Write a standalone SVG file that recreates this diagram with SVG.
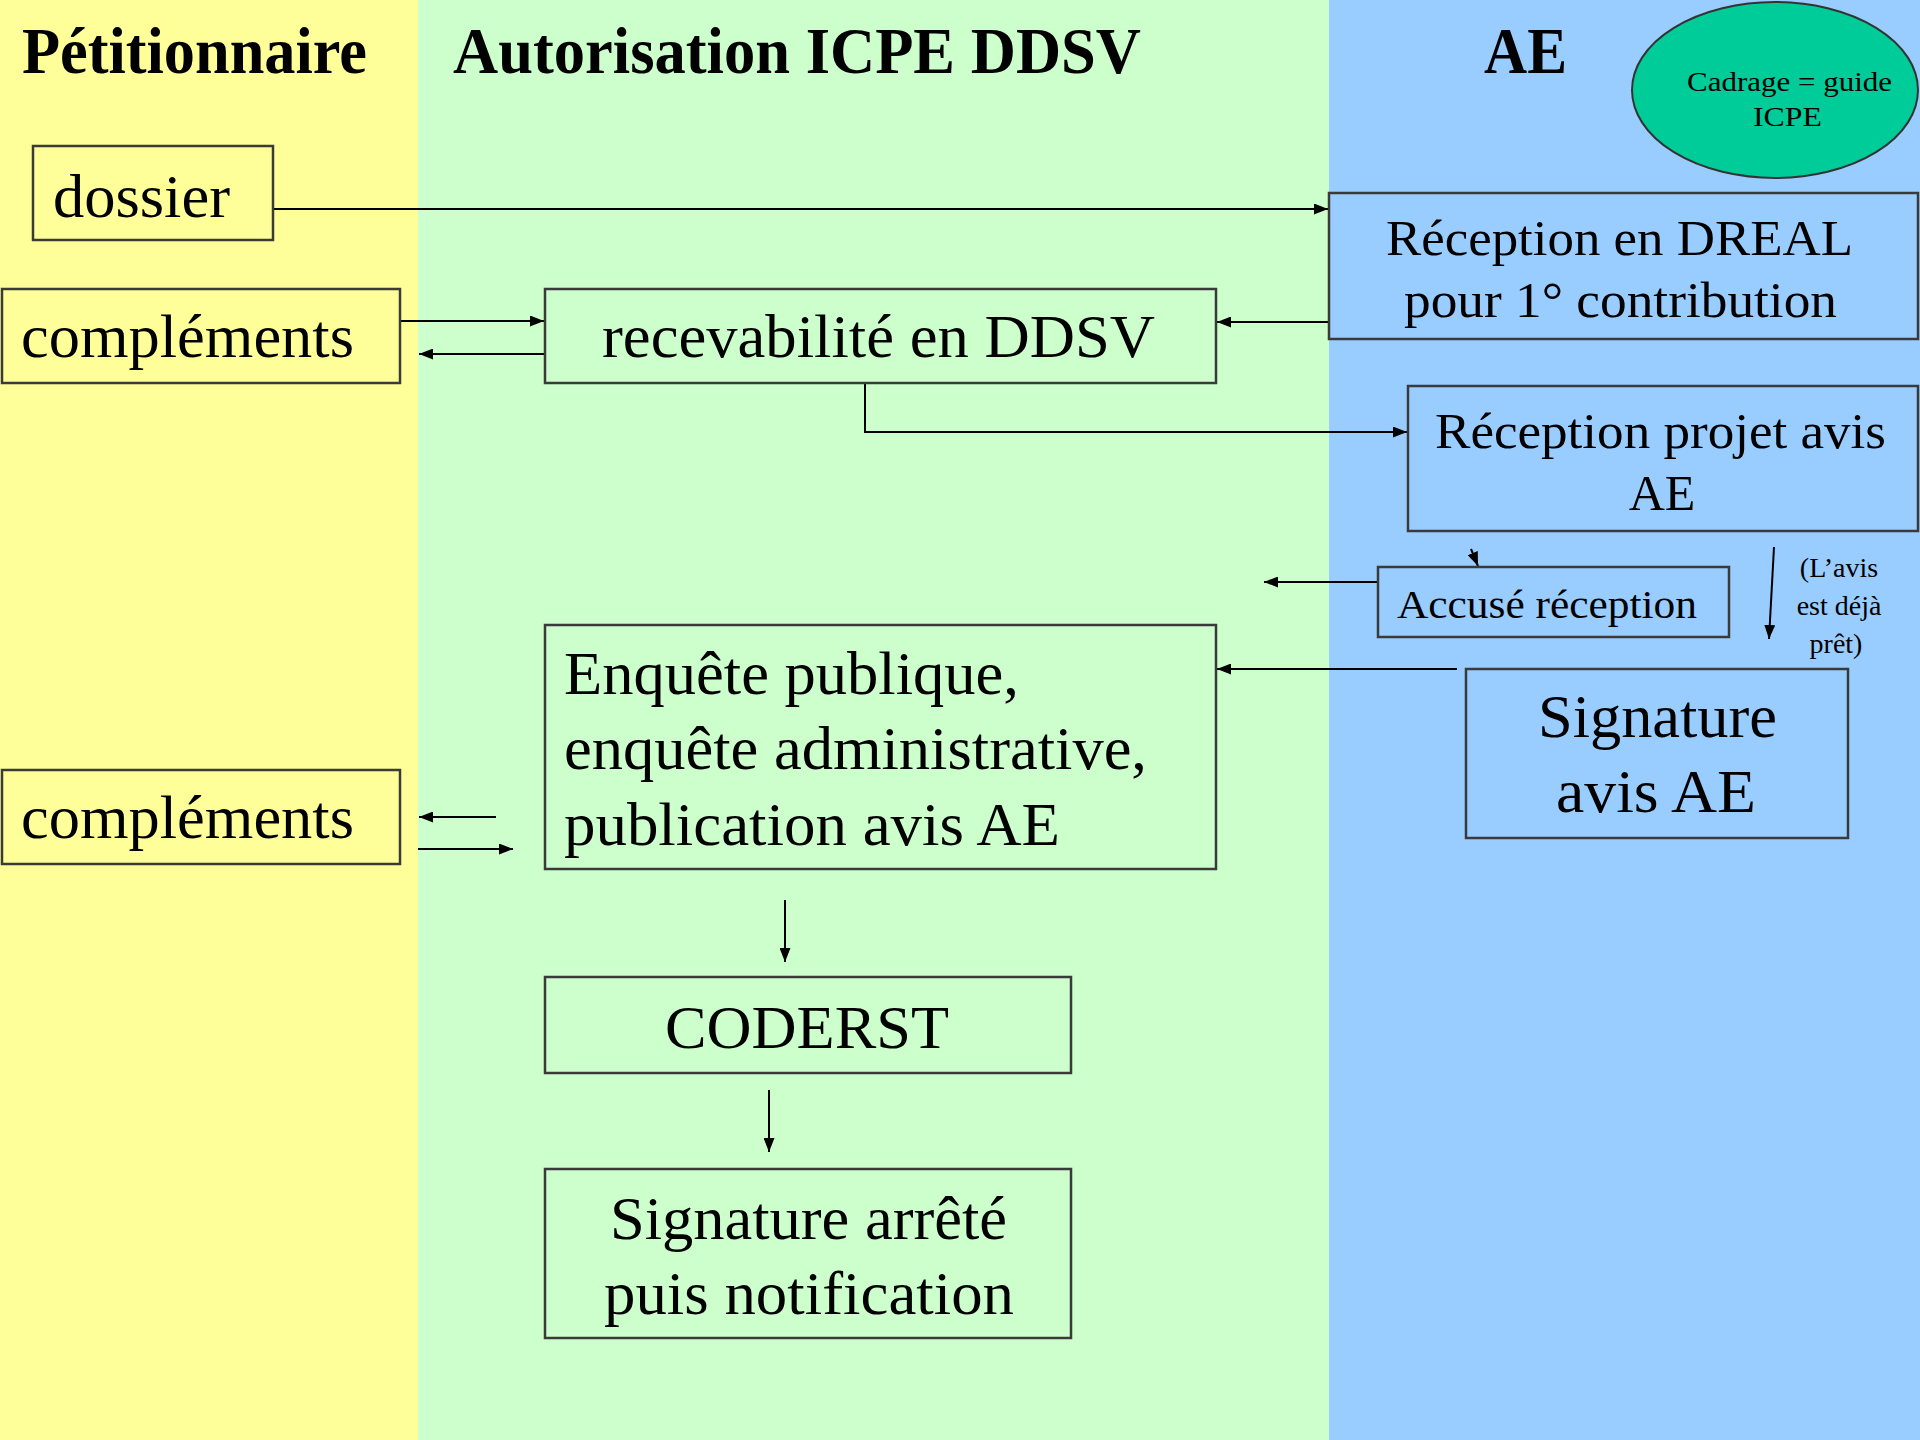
<svg xmlns="http://www.w3.org/2000/svg" width="1920" height="1440" viewBox="0 0 1920 1440">
<style>
.box{stroke:#3a3a3a;stroke-width:2.5}
.y{fill:#FFFF99}.g{fill:#CCFFCC}.b{fill:#99CCFF}
text{font-family:"Liberation Serif","Times New Roman","DejaVu Serif","Noto Serif",serif;fill:#000}
.h{font-weight:bold;font-size:66px}
.n{font-size:62px}
.m{font-size:50px}
.s{font-size:28px}
.c{stroke:#000;stroke-width:2;fill:none}
</style>
<defs>
<marker id="ahs" viewBox="0 0 14 11" refX="14" refY="5.5" markerWidth="14" markerHeight="11" orient="auto" markerUnits="userSpaceOnUse"><path d="M0,0 L14,5.5 L0,11 z" fill="#000"/></marker>
</defs>
<g id="lanes">
<rect x="0" y="0" width="418" height="1440" class="y"/>
<rect x="418" y="0" width="911" height="1440" class="g"/>
<rect x="1329" y="0" width="591" height="1440" class="b"/>
<text class="h" x="22" y="73" textLength="345" lengthAdjust="spacingAndGlyphs">Pétitionnaire</text>
<text class="h" x="453" y="73" textLength="688" lengthAdjust="spacingAndGlyphs">Autorisation ICPE DDSV</text>
<text class="h" x="1484" y="73" textLength="83" lengthAdjust="spacingAndGlyphs">AE</text>
</g>
<g id="cadrage">
<ellipse cx="1775" cy="90" rx="143" ry="88" fill="#00CC99" stroke="#333" stroke-width="2"/>
<text class="s" x="1687" y="91" textLength="205" lengthAdjust="spacingAndGlyphs">Cadrage = guide</text>
<text class="s" x="1753" y="126" textLength="69" lengthAdjust="spacingAndGlyphs">ICPE</text>
</g>
<g id="connectors">
<line class="c" x1="273" y1="209" x2="1328" y2="209" marker-end="url(#ahs)"/>
<line class="c" x1="1329" y1="322" x2="1217" y2="322" marker-end="url(#ahs)"/>
<line class="c" x1="400" y1="321" x2="544" y2="321" marker-end="url(#ahs)"/>
<line class="c" x1="545" y1="354" x2="419" y2="354" marker-end="url(#ahs)"/>
<polyline class="c" points="865,383 865,432 1407,432" marker-end="url(#ahs)"/>
<line class="c" x1="1471" y1="549" x2="1478" y2="566" marker-end="url(#ahs)"/>
<line class="c" x1="1378" y1="582" x2="1264" y2="582" marker-end="url(#ahs)"/>
<line class="c" x1="1774" y1="547" x2="1769" y2="639" marker-end="url(#ahs)"/>
<line class="c" x1="1457" y1="669" x2="1217" y2="669" marker-end="url(#ahs)"/>
<line class="c" x1="496" y1="817" x2="419" y2="817" marker-end="url(#ahs)"/>
<line class="c" x1="418" y1="849" x2="513" y2="849" marker-end="url(#ahs)"/>
<line class="c" x1="785" y1="900" x2="785" y2="962" marker-end="url(#ahs)"/>
<line class="c" x1="769" y1="1090" x2="769" y2="1152" marker-end="url(#ahs)"/>
</g>
<g id="note">
<text class="s" x="1839" y="577" text-anchor="middle">(L’avis</text>
<text class="s" x="1839" y="615" text-anchor="middle">est déjà</text>
<text class="s" x="1836" y="653" text-anchor="middle">prêt)</text>
</g>
<g id="dossier">
<rect x="33" y="146" width="240" height="94" class="box y"/>
<text class="n" x="53" y="217" textLength="177" lengthAdjust="spacingAndGlyphs">dossier</text>
</g>
<g id="complements1">
<rect x="2" y="289" width="398" height="94" class="box y"/>
<text class="n" x="21" y="357" textLength="333" lengthAdjust="spacingAndGlyphs">compléments</text>
</g>
<g id="recevabilite">
<rect x="545" y="289" width="671" height="94" class="box g"/>
<text class="n" x="602" y="357" textLength="553" lengthAdjust="spacingAndGlyphs">recevabilité en DDSV</text>
</g>
<g id="reception-dreal">
<rect x="1329" y="193" width="589" height="146" class="box b"/>
<text class="m" x="1386" y="255" textLength="467" lengthAdjust="spacingAndGlyphs">Réception en DREAL</text>
<text class="m" x="1404" y="317" textLength="433" lengthAdjust="spacingAndGlyphs">pour 1° contribution</text>
</g>
<g id="reception-projet">
<rect x="1408" y="386" width="510" height="145" class="box b"/>
<text class="m" x="1435" y="448" textLength="451" lengthAdjust="spacingAndGlyphs">Réception projet avis</text>
<text class="m" x="1662" y="510" text-anchor="middle">AE</text>
</g>
<g id="accuse">
<rect x="1378" y="567" width="351" height="70" class="box b"/>
<text font-size="40" x="1397" y="618" textLength="300" lengthAdjust="spacingAndGlyphs">Accusé réception</text>
</g>
<g id="signature-ae">
<rect x="1466" y="669" width="382" height="169" class="box b"/>
<text class="n" x="1538" y="737" textLength="239" lengthAdjust="spacingAndGlyphs">Signature</text>
<text class="n" x="1556" y="812" textLength="200" lengthAdjust="spacingAndGlyphs">avis AE</text>
</g>
<g id="enquete">
<rect x="545" y="625" width="671" height="244" class="box g"/>
<text class="n" x="564" y="694" textLength="455" lengthAdjust="spacingAndGlyphs">Enquête publique,</text>
<text class="n" x="564" y="769" textLength="583" lengthAdjust="spacingAndGlyphs">enquête administrative,</text>
<text class="n" x="564" y="845" textLength="496" lengthAdjust="spacingAndGlyphs">publication avis AE</text>
</g>
<g id="complements2">
<rect x="2" y="770" width="398" height="94" class="box y"/>
<text class="n" x="21" y="838" textLength="333" lengthAdjust="spacingAndGlyphs">compléments</text>
</g>
<g id="coderst">
<rect x="545" y="977" width="526" height="96" class="box g"/>
<text class="n" x="665" y="1048" textLength="284" lengthAdjust="spacingAndGlyphs">CODERST</text>
</g>
<g id="signature-arrete">
<rect x="545" y="1169" width="526" height="169" class="box g"/>
<text class="n" x="610" y="1239" textLength="397" lengthAdjust="spacingAndGlyphs">Signature arrêté</text>
<text class="n" x="604" y="1314" textLength="410" lengthAdjust="spacingAndGlyphs">puis notification</text>
</g>
</svg>
